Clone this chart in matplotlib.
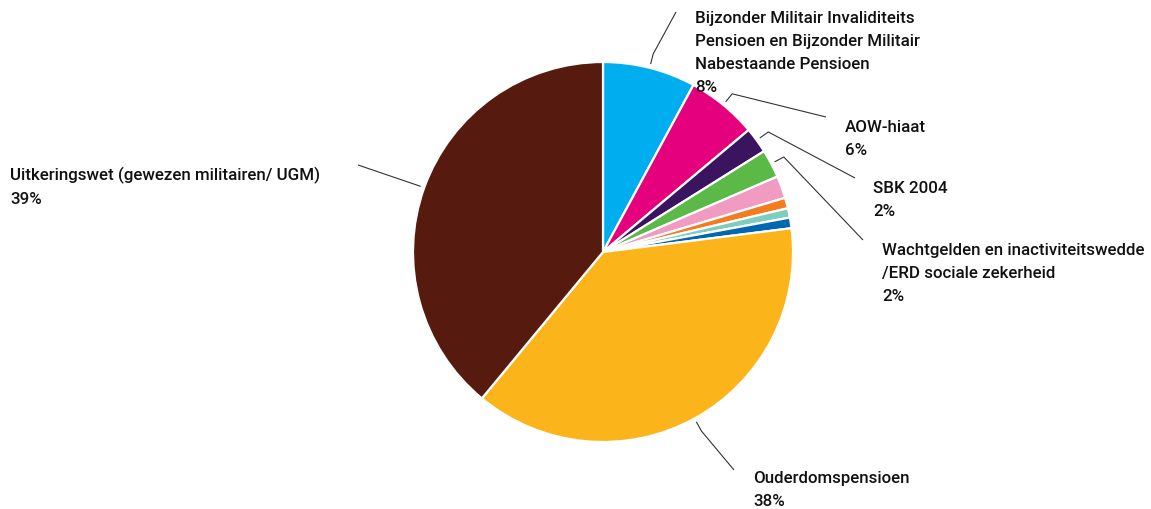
import numpy as np
import matplotlib
matplotlib.use("Agg")
import matplotlib.pyplot as plt

# ---- data ----
categories = [
    "Bijzonder Militair Invaliditeits\nPensioen en Bijzonder Militair\nNabestaande Pensioen",
    "AOW-hiaat",
    "SBK 2004",
    "Wachtgelden en inactiviteitswedde\n/ERD sociale zekerheid",
    "Overig 1",
    "Overig 2",
    "Overig 3",
    "Overig 4",
    "Ouderdomspensioen",
    "Uitkeringswet (gewezen militairen/ UGM)",
]
values = [7.9, 6.0, 2.2, 2.4, 1.9, 0.9, 0.8, 0.9, 38.0, 39.0]
pct_labels = ["8%", "6%", "2%", "2%", None, None, None, None, "38%", "39%"]
colors = ["#00AEEF", "#E5007D", "#3B1460", "#5BBA47", "#F19AC2",
          "#F47B20", "#7FCDBE", "#0067B1", "#FBB41A", "#561A0E"]

W, H = 1151, 509
fig = plt.figure(figsize=(W / 100, H / 100), dpi=100)
ax = fig.add_axes([0, 0, 1, 1])

cx, cy, R = 603, H - 252, 190
wedges, _ = ax.pie(values, colors=colors, startangle=90, counterclock=False,
                   center=(cx, cy), radius=R, frame=True,
                   wedgeprops=dict(edgecolor="white", linewidth=1.6))
ax.set_xlim(0, W)
ax.set_ylim(0, H)
ax.axis("off")

# label layout: (text x, text top y in pixels from top, line end x, line end y, use elbow)
layout = {
    0: (695, 11, 676, 12, True),
    1: (845, 120, 826, 117, True),
    2: (873, 181, 855, 178, True),
    3: (882, 243, 863, 240, True),
    8: (753, 471, 734, 470, True),
    9: (10, 167, 358, 165, False),
}

font = dict(family=["Roboto", "DejaVu Sans"], fontsize=12.2, fontweight="medium",
            color="#111111")

for i, (tx, ty, ex, ey, elbow) in layout.items():
    w = wedges[i]
    mid = np.deg2rad((w.theta1 + w.theta2) / 2)
    sx, sy = cx + R * 1.02 * np.cos(mid), cy + R * 1.02 * np.sin(mid)
    pts = [(sx, sy)]
    if elbow:
        pts.append((cx + R * 1.075 * np.cos(mid), cy + R * 1.075 * np.sin(mid)))
    pts.append((ex, H - ey))
    xs, ys = zip(*pts)
    ax.plot(xs, ys, color="#333333", lw=0.8, solid_capstyle="butt")
    ax.text(tx, H - ty, categories[i] + "\n" + pct_labels[i], ha="left", va="top",
            linespacing=1.68, **font)

fig.savefig("out.png", dpi=100)
